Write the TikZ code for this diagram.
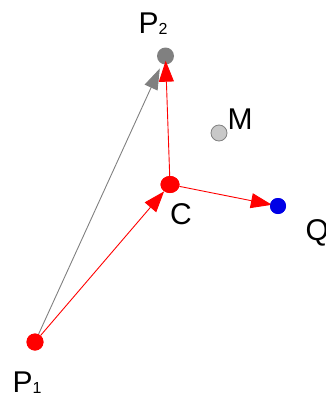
\documentclass[tikz,border=0pt]{standalone}
\usepackage{fontspec}
\setmainfont{Liberation Sans}
\usetikzlibrary{arrows.meta,positioning,shapes.geometric}
\definecolor{cRed}{RGB}{255,0,0}
\definecolor{cBlue}{RGB}{0,0,230}
\definecolor{cGray}{RGB}{128,128,128}
\definecolor{cLight}{RGB}{200,200,200}
\tikzset{
  dot/.style={circle,inner sep=0pt,minimum size=17pt},
  reddot/.style={dot,fill=cRed},
  cdot/.style={ellipse,inner sep=0pt,minimum width=19pt,minimum height=17pt,fill=cRed},
  graydot/.style={dot,fill=cGray},
  bluedot/.style={dot,fill=cBlue,minimum size=16pt},
  mdot/.style={dot,fill=cLight,draw=cGray,line width=0.8pt,minimum size=16pt},
  lbl/.style={font=\fontsize{30}{30}\selectfont,inner sep=0pt},
  redarr/.style={-{Triangle[length=21pt,width=15pt]},color=cRed,line width=0.9pt},
  grayarr/.style={-{Triangle[length=21pt,width=14pt]},color=cGray,line width=0.9pt}
}
\newcommand{\sub}[1]{\raisebox{-1pt}{\fontsize{16}{16}\selectfont #1}}

\begin{document}
\begin{tikzpicture}[x=1pt,y=-1pt]
  \useasboundingbox (0,0) rectangle (326,399);

  % points
  \node[reddot]  (p1) at (35,342)  {};
  \node[graydot] (p2) at (165.5,56) {};
  \node[cdot]    (c)  at (170,184.5) {};
  \node[bluedot] (q)  at (278,206) {};
  \node[mdot]    (m)  at (219,133) {};

  % vectors
  \draw[grayarr,shorten >=5pt] (p1) -- (p2);
  \draw[redarr] (p1) -- (c);
  \draw[redarr,shorten >=-4pt] (c) -- (p2);
  \draw[redarr,shorten >=-2pt] (c) -- (q);

  % dots on top
  \node[reddot] at (p1) {};
  \node[cdot] at (c) {};
  \node[bluedot] at (q) {};

  % labels
  \node[lbl,anchor=base west] (lp2) at (138.5,33) {P\sub{2}};
  \node[lbl,anchor=base west] (lm)  at (227.5,129) {M};
  \node[lbl,anchor=base west] (lc)  at (170,224) {C};
  \node[lbl,anchor=base west] (lq)  at (305.5,240.5) {Q};
  \node[lbl,anchor=base west] (lp1) at (12.5,392) {P\sub{1}};
\end{tikzpicture}
\end{document}
